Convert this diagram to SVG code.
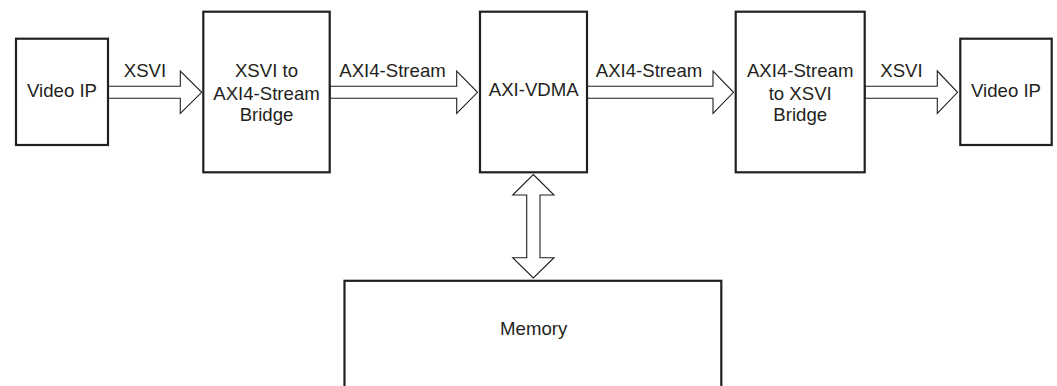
<svg xmlns="http://www.w3.org/2000/svg" width="1057" height="386" viewBox="0 0 1057 386">
  <style>
    .box { fill: #ffffff; stroke: #231f20; stroke-width: 2.2; }
    .arrow { fill: #ffffff; stroke: #231f20; stroke-width: 1.1; stroke-linejoin: miter; }
    text { font-family: "Liberation Sans", Arial, sans-serif; font-size: 18.6px; fill: #231f20; text-anchor: middle; }
  </style>
  <rect width="1057" height="386" fill="#ffffff"/>

  <!-- block-arrow connectors -->
  <g id="connectors">
    <g id="xsvi-in">
      <polygon class="arrow" points="108,86.3 180.3,86.3 180.3,71 201.7,92.3 180.3,113.5 180.3,98.3 108,98.3"/>
      <text x="145" y="77">XSVI</text>
    </g>
    <g id="axis-in">
      <polygon class="arrow" points="330,86.3 456.7,86.3 456.7,71 477.5,92.3 456.7,113.5 456.7,98.3 330,98.3"/>
      <text x="392.5" y="77">AXI4-Stream</text>
    </g>
    <g id="axis-out">
      <polygon class="arrow" points="587,86.3 713,86.3 713,71 733.5,92.3 713,113.5 713,98.3 587,98.3"/>
      <text x="649" y="77">AXI4-Stream</text>
    </g>
    <g id="xsvi-out">
      <polygon class="arrow" points="865,86.3 937.3,86.3 937.3,71 957.5,92.3 937.3,113.5 937.3,98.3 865,98.3"/>
      <text x="901.5" y="77">XSVI</text>
    </g>
    <g id="mem-bus">
      <polygon class="arrow" points="533.3,174.5 554,195 540,195 540,257.7 554,257.7 533.3,278 512.7,257.7 526.7,257.7 526.7,195 512.7,195"/>
    </g>
  </g>

  <g id="video-ip-in">
    <rect class="box" x="16" y="38.7" width="92" height="106.3"/>
    <text x="62" y="96.7">Video IP</text>
  </g>

  <g id="xsvi-to-axis-bridge">
    <rect class="box" x="203.3" y="11.7" width="126.4" height="160.6"/>
    <text x="266.5" y="77">XSVI to</text>
    <text x="266.5" y="99.5">AXI4-Stream</text>
    <text x="266.5" y="121">Bridge</text>
  </g>

  <g id="axi-vdma">
    <rect class="box" x="480" y="11.7" width="107" height="160.6"/>
    <text x="533.7" y="96">AXI-VDMA</text>
  </g>

  <g id="axis-to-xsvi-bridge">
    <rect class="box" x="735.7" y="11.7" width="129" height="160.6"/>
    <text x="800.2" y="77">AXI4-Stream</text>
    <text x="800.2" y="99.5">to XSVI</text>
    <text x="800.2" y="121">Bridge</text>
  </g>

  <g id="video-ip-out">
    <rect class="box" x="960.3" y="38.7" width="91.4" height="106.3"/>
    <text x="1006" y="96.7">Video IP</text>
  </g>

  <g id="memory">
    <rect class="box" x="344.5" y="280.8" width="376.8" height="120"/>
    <text x="533.7" y="335">Memory</text>
  </g>
</svg>
